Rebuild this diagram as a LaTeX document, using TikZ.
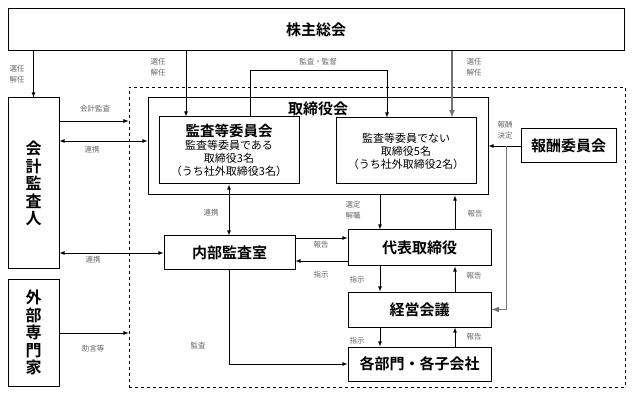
\documentclass[tikz,border=0pt]{standalone}
\usepackage{fontspec}
\usepackage{xcolor}
\usepackage{tikz}
\usetikzlibrary{calc}
\newfontfamily\jp{Noto Sans CJK JP}
\newfontfamily\jpb{Noto Sans CJK JP Bold}

\begin{document}
\begin{tikzpicture}[
    x=1pt, y=-1pt,
    >=latex,
    line width=0.8pt,
    every node/.style={font=\jp\fontsize{11}{13}\selectfont},
    box/.style={draw, line width=1pt, rectangle, inner sep=0pt},
    ttl/.style={font=\jpb\fontsize{15}{17}\selectfont},
    vttl/.style={font=\jpb\fontsize{16}{17.5}\selectfont, align=center},
    lbl/.style={font=\jp\fontsize{7.5}{10.5}\selectfont, text=black!60, align=center, inner sep=0pt},
    grayline/.style={draw=black!55, line width=1.5pt}
  ]
    \useasboundingbox (0,0) rectangle (632,398);

    % boxes
    \node[box, ttl, minimum width=616pt, minimum height=42pt] (soukai) at (316,30) {株主総会};
    \node[box, vttl, minimum width=51pt, minimum height=171pt] (kansanin) at (33.5,183.5) {会\\計\\監\\査\\人};
    \node[box, vttl, minimum width=51pt, minimum height=107pt] (senmon) at (33.5,332.5) {外\\部\\専\\門\\家};
    \node[draw, dashed, line width=0.7pt, minimum width=496pt, minimum height=300pt] (group) at (377,237) {};
    \node[box, minimum width=340pt, minimum height=97pt] (torishimari) at (318,146.5) {};
    \node[ttl] (torititle) at (318,109) {取締役会};
    \node[box, minimum width=140pt, minimum height=67pt, align=center] (kansaiinkai) at (229,150.5)
      {{\jpb\fontsize{14.5}{17}\selectfont 監査等委員会}\\監査等委員である\\取締役3名\\（うち社外取締役3名）};
    \node[box, minimum width=140pt, minimum height=66pt, align=center] (hikansa) at (406,151)
      {監査等委員でない\\取締役5名\\（うち社外取締役2名）};
    \node[box, ttl, minimum width=95pt, minimum height=34pt] (housyu) at (568.5,146) {報酬委員会};
    \node[box, ttl, minimum width=131pt, minimum height=34pt] (naibu) at (229.5,253) {内部監査室};
    \node[box, ttl, minimum width=143pt, minimum height=36pt] (daihyo) at (419.5,248) {代表取締役};
    \node[box, ttl, minimum width=143pt, minimum height=35pt] (keiei) at (419.5,309.5) {経営会議};
    \node[box, ttl, minimum width=143pt, minimum height=34pt] (kakubu) at (419.5,364) {各部門・各子会社};

    \coordinate (cL) at (380,0);
    \coordinate (cR) at (455,0);
    \coordinate (hb) at ($(housyu.west)+(-14,0)$);

    % from shareholders
    \draw[->] (soukai.south -| kansanin.north) -- (kansanin.north);
    \draw[->] ([xshift=-43pt]kansaiinkai.north |- soukai.south) -- ([xshift=-43pt]kansaiinkai.north);
    \draw[->, grayline] ([xshift=46pt]hikansa.north |- soukai.south) -- ([xshift=46pt]hikansa.north);
    \draw[->] ([xshift=21pt]kansaiinkai.north) -- ++(0,-46) -| ([xshift=-19pt]hikansa.north);

    % left side
    \draw[->] (kansanin.east |- 0,121) -- (group.west |- 0,121);
    \draw[<->] (kansanin.east |- 0,141) -- (torishimari.west |- 0,141);
    \draw[<->] (kansanin.east |- naibu.west) -- (naibu.west);
    \draw[->] (senmon.east |- 0,333) -- (group.west |- 0,333);
    \draw[<->] (kansaiinkai.south) -- (naibu.north -| kansaiinkai.south);
    \draw[->] (naibu.south) |- (kakubu.west);

    % remuneration
    \draw[->] (housyu.west) -- (torishimari.east |- housyu.west);
    \draw[->, grayline] (hb) |- (keiei.east);

    % executive chain
    \draw[->] (torishimari.south -| cL) -- (daihyo.north -| cL);
    \draw[->] (daihyo.north -| cR) -- (torishimari.south -| cR);
    \draw[->] (daihyo.south -| cL) -- (keiei.north -| cL);
    \draw[->] (keiei.north -| cR) -- (daihyo.south -| cR);
    \draw[->] (keiei.south -| cL) -- (kakubu.north -| cL);
    \draw[->] (kakubu.north -| cR) -- (keiei.south -| cR);
    \draw[->] (naibu.east |- 0,238) -- (daihyo.west |- 0,238);
    \draw[->] (daihyo.west |- 0,261) -- (naibu.east |- 0,261);

    % labels
    \node[lbl] (l1) at (17,74) {選任\\解任};
    \node[lbl] (l2) at (158,67) {選任\\解任};
    \node[lbl] (l3) at (474,67) {選任\\解任};
    \node[lbl] (l4) at (318,62) {監査・監督};
    \node[lbl] (l5) at (95,109) {会計監査};
    \node[lbl] (l6) at (92,150) {連携};
    \node[lbl] (l7) at (211,213) {連携};
    \node[lbl] (l8) at (93,260) {連携};
    \node[lbl] (l9) at (93,349) {助言等};
    \node[lbl] (l10) at (198,346) {監査};
    \node[lbl] (l11) at (505,130) {報酬\\決定};
    \node[lbl] (l12) at (353,210) {選定\\解職};
    \node[lbl] (l13) at (475,214) {報告};
    \node[lbl] (l14) at (321,245) {報告};
    \node[lbl] (l15) at (321,275) {指示};
    \node[lbl] (l16) at (357,280) {指示};
    \node[lbl] (l17) at (474,276) {報告};
    \node[lbl] (l18) at (357,341) {指示};
    \node[lbl] (l19) at (474,337) {報告};
  \end{tikzpicture}
\end{document}
